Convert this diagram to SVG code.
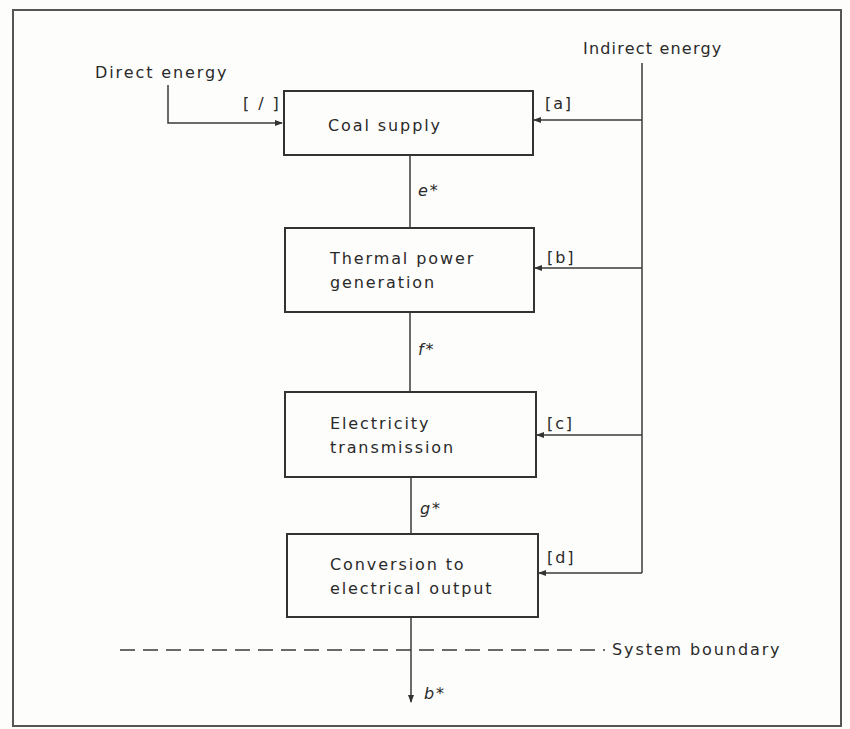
<svg xmlns="http://www.w3.org/2000/svg" width="850" height="729" viewBox="0 0 850 729">
<style>
.t{font-family:"DejaVu Sans","Liberation Sans",sans-serif;font-size:16px;fill:#2a2a2a;letter-spacing:1.9px}
.box{fill:none;stroke:#333;stroke-width:2}
.ln{fill:none;stroke:#3a3a3a;stroke-width:1.5}
.it{font-style:italic}
</style>
<defs>
<marker id="ah" markerWidth="8" markerHeight="8" refX="7" refY="4" orient="auto" markerUnits="userSpaceOnUse">
<path d="M0,1 L8,4 L0,7 Z" fill="#333"/>
</marker>
</defs>
<rect width="850" height="729" fill="#fdfdfc"/>
<rect x="13" y="10" width="828" height="716" fill="none" stroke="#555" stroke-width="2"/>
<g id="connectors">
<path class="ln" d="M168,85 V123 H282" marker-end="url(#ah)"/>
<path class="ln" d="M642,63 V573"/>
<path class="ln" d="M642,120 H534" marker-end="url(#ah)"/>
<path class="ln" d="M642,268 H535" marker-end="url(#ah)"/>
<path class="ln" d="M642,435 H537" marker-end="url(#ah)"/>
<path class="ln" d="M642,573 H539" marker-end="url(#ah)"/>
<path class="ln" d="M410,156 V228"/>
<path class="ln" d="M410,312 V392"/>
<path class="ln" d="M411,477 V534"/>
<path class="ln" d="M411,617 V702" marker-end="url(#ah)"/>
<path class="ln" d="M120,650 H605" stroke-dasharray="15,8"/>
<text class="t" x="243" y="109">[ / ]</text>
<text class="t" x="545" y="109">[a]</text>
<text class="t" x="547" y="263">[b]</text>
<text class="t" x="547" y="429">[c]</text>
<text class="t" x="547" y="563">[d]</text>
<text class="t it" x="418" y="196">e*</text>
<text class="t it" x="418" y="355">f*</text>
<text class="t it" x="420" y="514">g*</text>
<text class="t it" x="424" y="699">b*</text>
</g>
<g id="direct">
<text class="t" x="95" y="78">Direct energy</text>
</g>
<g id="indirect">
<text class="t" x="583" y="54" style="letter-spacing:1.2px">Indirect energy</text>
</g>
<g id="boundary">
<text class="t" x="612" y="655">System boundary</text>
</g>
<g id="coal">
<rect class="box" x="284" y="91" width="249" height="64"/>
<text class="t" x="328" y="131">Coal supply</text>
</g>
<g id="thermal">
<rect class="box" x="285" y="228" width="249" height="84"/>
<text class="t" x="330" y="264">Thermal power</text>
<text class="t" x="330" y="288">generation</text>
</g>
<g id="electricity">
<rect class="box" x="285" y="392" width="251" height="85"/>
<text class="t" x="330" y="429">Electricity</text>
<text class="t" x="330" y="453">transmission</text>
</g>
<g id="conversion">
<rect class="box" x="287" y="534" width="251" height="83"/>
<text class="t" x="330" y="570">Conversion to</text>
<text class="t" x="330" y="594">electrical output</text>
</g>
</svg>
